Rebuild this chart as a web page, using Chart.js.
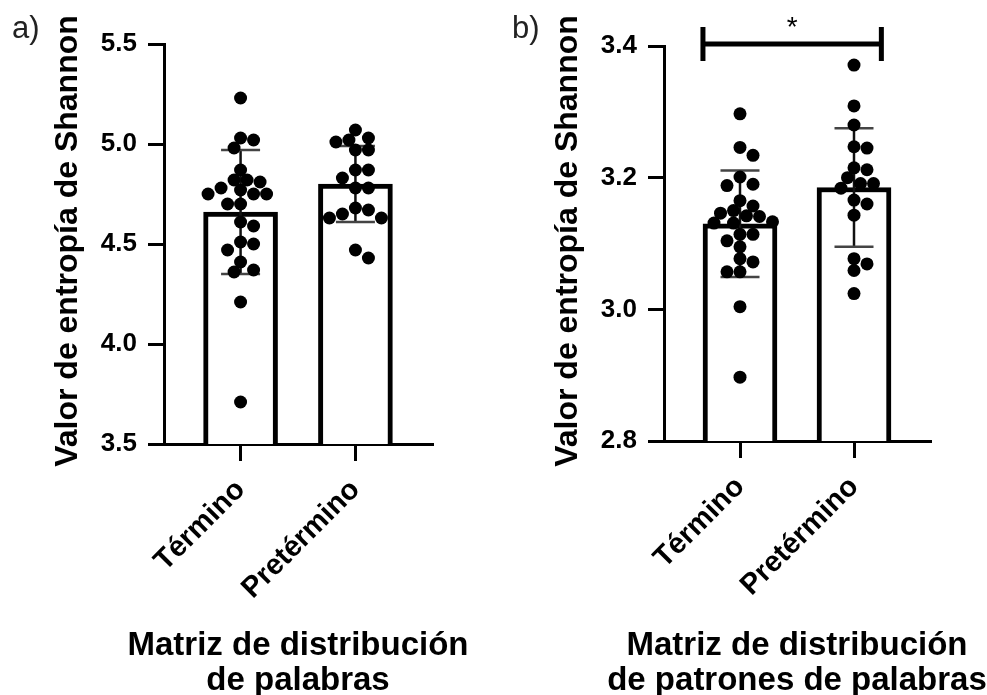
<!DOCTYPE html>
<html lang="es">
<head>
<meta charset="utf-8">
<title>Entropía de Shannon</title>
<script src="https://cdn.jsdelivr.net/npm/chart.js"></script>
<style>
  html, body { margin: 0; padding: 0; background: #fff; }
  body { width: 987px; height: 695px; position: relative; overflow: hidden; }
  .panel { position: absolute; top: 0; height: 695px; }
  #panelA { left: 0; width: 500px; }
  #panelB { left: 500px; width: 487px; }
  .tag { position: absolute; top: 12px; font: 31px/31px "Liberation Sans", Arial, sans-serif; color: #222; }
</style>
</head>
<body>
<div class="panel" id="panelA"><canvas id="chartA" width="500" height="695"></canvas></div>
<div class="panel" id="panelB"><canvas id="chartB" width="487" height="695"></canvas></div>
<div class="tag" style="left:12px">a)</div>
<div class="tag" style="left:512px">b)</div>
<script>
const FONT = '"Liberation Sans", Arial, sans-serif';

const grupos = ['Término', 'Pretérmino'];

// a) matriz de distribución de palabras
const palabrasTermino = [5.23, 5.03, 5.02, 4.98, 4.87, 4.82, 4.81, 4.82, 4.75, 4.75, 4.78, 4.77, 4.75,
  4.70, 4.70, 4.61, 4.59, 4.50, 4.51, 4.47, 4.41, 4.36, 4.37, 4.21, 3.71];
const palabrasPretermino = [5.07, 5.03, 5.02, 5.01, 4.97, 4.97, 4.87, 4.87, 4.83, 4.78, 4.78,
  4.68, 4.67, 4.65, 4.63, 4.63, 4.47, 4.43];
const palabrasMedia = [4.66, 4.80];
const palabrasDE = [0.31, 0.19];
const ticksPalabras = [3.5, 4.0, 4.5, 5.0, 5.5];

// b) matriz de distribución de patrones de palabras
const patronesTermino = [3.297, 3.246, 3.234, 3.201, 3.190, 3.188, 3.165, 3.157, 3.150, 3.146, 3.141,
  3.142, 3.131, 3.131, 3.133, 3.114, 3.114, 3.104, 3.095, 3.077, 3.072, 3.057, 3.057, 3.004, 2.897];
const patronesPretermino = [3.371, 3.309, 3.280, 3.247, 3.245, 3.215, 3.212, 3.200, 3.191, 3.191,
  3.184, 3.166, 3.160, 3.143, 3.077, 3.069, 3.059, 3.024];
const patronesMedia = [3.13, 3.185];
const patronesDE = [0.081, 0.090];
const ticksPatrones = [2.8, 3.0, 3.2, 3.4];

Chart.defaults.font.family = FONT;
Chart.defaults.color = '#000';

// spread dots sideways so they don't pile on top of each other
function enjambre(pys, diam, paso) {
  const orden = pys.map((p, i) => i).sort((a, b) => pys[a] - pys[b]);
  const colocados = [];
  const dx = new Array(pys.length).fill(0);
  orden.forEach(i => {
    for (let k = 0; k < 60; k++) {
      const d = (k % 2 ? 1 : -1) * Math.ceil(k / 2) * paso;
      if (colocados.every(p => Math.hypot(p.x - d, p.y - pys[i]) >= diam)) {
        dx[i] = d;
        colocados.push({ x: d, y: pys[i] });
        break;
      }
    }
  });
  return dx;
}

// error bars, axis titles and the significance bracket
function decoracion(cfg) {
  return {
    id: 'decoracion',
    afterDatasetDraw(chart, args) {
      if (args.index !== 0) return;
      const { ctx, scales: { x, y } } = chart;
      ctx.save();
      ctx.lineWidth = 2.5;
      cfg.medias.forEach((m, i) => {
        const px = x.getPixelForValue(i);
        const arriba = y.getPixelForValue(m + cfg.de[i]);
        const abajo = y.getPixelForValue(m - cfg.de[i]);
        ctx.strokeStyle = '#111';
        ctx.beginPath();
        ctx.moveTo(px, arriba); ctx.lineTo(px, abajo);
        ctx.stroke();
        ctx.strokeStyle = '#444';
        ctx.beginPath();
        ctx.moveTo(px - 19.5, arriba); ctx.lineTo(px + 19.5, arriba);
        ctx.moveTo(px - 19.5, abajo); ctx.lineTo(px + 19.5, abajo);
        ctx.stroke();
      });
      ctx.restore();
    },
    afterDraw(chart) {
      const { ctx, chartArea, scales: { x, y } } = chart;
      ctx.save();
      ctx.fillStyle = '#000';

      ctx.font = 'bold 32px ' + FONT;
      ctx.textAlign = 'center';
      ctx.textBaseline = 'alphabetic';
      ctx.translate(77, 241);
      ctx.rotate(-Math.PI / 2);
      ctx.fillText('Valor de entropía de Shannon', 0, 0);
      ctx.setTransform(1, 0, 0, 1, 0, 0);

      ctx.font = 'bold 33px ' + FONT;
      const cx = (chartArea.left + chartArea.right) / 2;
      cfg.tituloX.forEach((linea, i) => ctx.fillText(linea, cx, 655 + i * 35));

      if (cfg.llave) {
        const k = cfg.llave;
        const x0 = x.getPixelForValue(k.desde), x1 = x.getPixelForValue(k.hasta);
        const yy = y.getPixelForValue(k.y);
        ctx.strokeStyle = '#000';
        ctx.lineWidth = 5;
        ctx.beginPath();
        ctx.moveTo(x0, yy); ctx.lineTo(x1, yy);
        ctx.moveTo(x0, yy - 17); ctx.lineTo(x0, yy + 17);
        ctx.moveTo(x1, yy - 17); ctx.lineTo(x1, yy + 17);
        ctx.stroke();
        ctx.font = '28px ' + FONT;
        ctx.fillText(k.texto, (x0 + x1) / 2, yy - 8);
      }
      ctx.restore();
    }
  };
}

function panel(id, cfg) {
  const chart = new Chart(document.getElementById(id), {
    type: 'bar',
    data: {
      datasets: [
        {
          type: 'bar',
          data: cfg.medias.map((m, i) => ({ x: i, y: m })),
          backgroundColor: '#fff',
          borderColor: '#000',
          borderWidth: 5,
          barThickness: 74,
          order: 2
        },
        {
          type: 'scatter',
          data: [],
          pointRadius: 6.5,
          pointBackgroundColor: '#000',
          pointBorderWidth: 0,
          clip: false,
          order: 1
        }
      ]
    },
    options: {
      responsive: false,
      animation: false,
      events: [],
      layout: { padding: { left: 0, top: cfg.arriba, right: cfg.derecha, bottom: 0 } },
      plugins: { legend: { display: false }, tooltip: { enabled: false } },
      scales: {
        x: {
          type: 'linear',
          offset: false,
          min: -2 / 3,
          max: 5 / 3,
          afterBuildTicks: s => { s.ticks = grupos.map((g, i) => ({ value: i })); },
          afterFit: s => { s.height = 695 - cfg.base; s.paddingLeft = 0; s.paddingRight = 0; },
          ticks: {
            color: '#000', font: { size: 29, weight: 'bold' }, minRotation: 45, maxRotation: 45, padding: 12,
            callback: v => grupos[v]
          },
          grid: { offset: false, drawOnChartArea: false, tickLength: 17, lineWidth: 3, color: '#000' },
          border: { color: '#000', width: 3 }
        },
        y: {
          min: cfg.ticks[0],
          max: cfg.ticks[cfg.ticks.length - 1],
          afterBuildTicks: s => { s.ticks = cfg.ticks.map(v => ({ value: v })); },
          afterFit: s => { s.width = 164; s.paddingTop = 0; s.paddingBottom = 0; },
          ticks: { color: '#000', font: { size: 26, weight: 'bold' }, padding: 11, callback: v => v.toFixed(1) },
          grid: { drawOnChartArea: false, tickLength: 16, lineWidth: 3, color: '#000' },
          border: { color: '#000', width: 3 }
        }
      }
    },
    plugins: [decoracion(cfg)]
  });

  const ex = chart.scales.x, ey = chart.scales.y;
  const unidad = ex.getPixelForValue(1) - ex.getPixelForValue(0);
  const puntos = [];
  cfg.series.forEach((valores, g) => {
    const dx = enjambre(valores.map(v => ey.getPixelForValue(v)), 11.5, 6.5);
    valores.forEach((v, i) => puntos.push({ x: g + dx[i] / unidad, y: v }));
  });
  chart.data.datasets[1].data = puntos;
  chart.update('none');
  return chart;
}

panel('chartA', {
  series: [palabrasTermino, palabrasPretermino],
  medias: palabrasMedia,
  de: palabrasDE,
  ticks: ticksPalabras,
  arriba: 44,
  base: 444,
  derecha: 68,
  tituloX: ['Matriz de distribución', 'de palabras']
});

panel('chartB', {
  series: [patronesTermino, patronesPretermino],
  medias: patronesMedia,
  de: patronesDE,
  ticks: ticksPatrones,
  arriba: 46,
  base: 441,
  derecha: 57,
  tituloX: ['Matriz de distribución', 'de patrones de palabras'],
  llave: { desde: -0.325, hasta: 1.24, y: 3.403, texto: '*' }
});
</script>
</body>
</html>
